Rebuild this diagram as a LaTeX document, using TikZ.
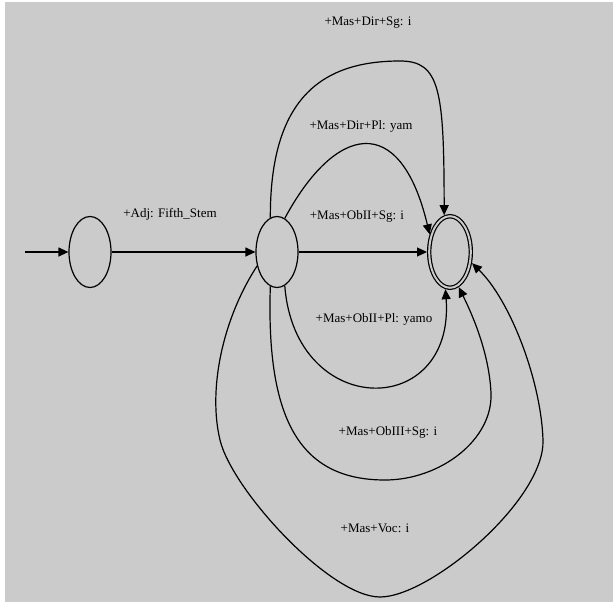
\documentclass[tikz,border=0pt]{standalone}
\usepackage{fontspec}
\setmainfont{Liberation Serif}
\usetikzlibrary{shapes.geometric,arrows.meta}
\definecolor{bg}{RGB}{203,203,203}
\tikzset{
  state/.style={ellipse,draw,line width=1.2pt,minimum width=42pt,minimum height=71pt,inner sep=0pt},
  final/.style={ellipse,draw,line width=1.2pt,double=bg,double distance=2pt,minimum width=41.6pt,minimum height=71.6pt,inner sep=0pt,outer sep=2.2pt},
  edge/.style={line width=1.2pt,-{Triangle[length=10pt,width=9pt]}},
  lbl/.style={font=\fontsize{13}{15}\selectfont,anchor=base,inner sep=0pt}
}
\begin{document}
\begin{tikzpicture}[x=1pt,y=-1pt]
\fill[white] (0,0) rectangle (613,602);
\fill[bg] (5,2) rectangle (613,602);
\useasboundingbox (0,0) rectangle (613,602);

\node[state] (s0) at (90,252) {};
\node[state] (s1) at (277,252) {};
\node[final] (f) at (450,252) {};
\coordinate (start) at (25,252);

\draw[edge] (start) -- (s0);
\draw[edge] (s0) -- (s1);
\draw[edge] (s1) -- (f);

% +Mas+Dir+Sg
\draw[edge] (s1.101) .. controls (270,100) and (320,61) .. (400,61)
  .. controls (440,61) and (444,90) .. (f.99);
% +Mas+Dir+Pl
\draw[edge] (s1.77) .. controls (335,125) and (400,110) .. (f.139);
% +Mas+ObII+Pl
\draw[edge] (s1.283) .. controls (295,420) and (455,420) .. (f.263);
% +Mas+ObIII+Sg
\draw[edge] (s1.259) .. controls (266,420) and (300,480) .. (385,480)
  .. controls (440,480) and (493,440) .. (491,393)
  .. controls (489,350) and (470,310) .. (f.284);
% +Mas+Voc
\draw[edge] (s1.215) .. controls (222,320) and (208,390) .. (220,440)
  .. controls (232,490) and (330,597) .. (380,597)
  .. controls (430,597) and (545,500) .. (543,440)
  .. controls (541,380) and (510,300) .. (f.333);

\node[lbl] (l0) at (170,217) {+Adj: Fifth\_Stem};
\node[lbl] (l1) at (368,26) {+Mas+Dir+Sg: i};
\node[lbl] (l2) at (361,129) {+Mas+Dir+Pl: yam};
\node[lbl] (l3) at (357,219) {+Mas+ObII+Sg: i};
\node[lbl] (l4) at (374,322) {+Mas+ObII+Pl: yamo};
\node[lbl] (l5) at (388,435) {+Mas+ObIII+Sg: i};
\node[lbl] (l6) at (375,532) {+Mas+Voc: i};
\end{tikzpicture}
\end{document}
